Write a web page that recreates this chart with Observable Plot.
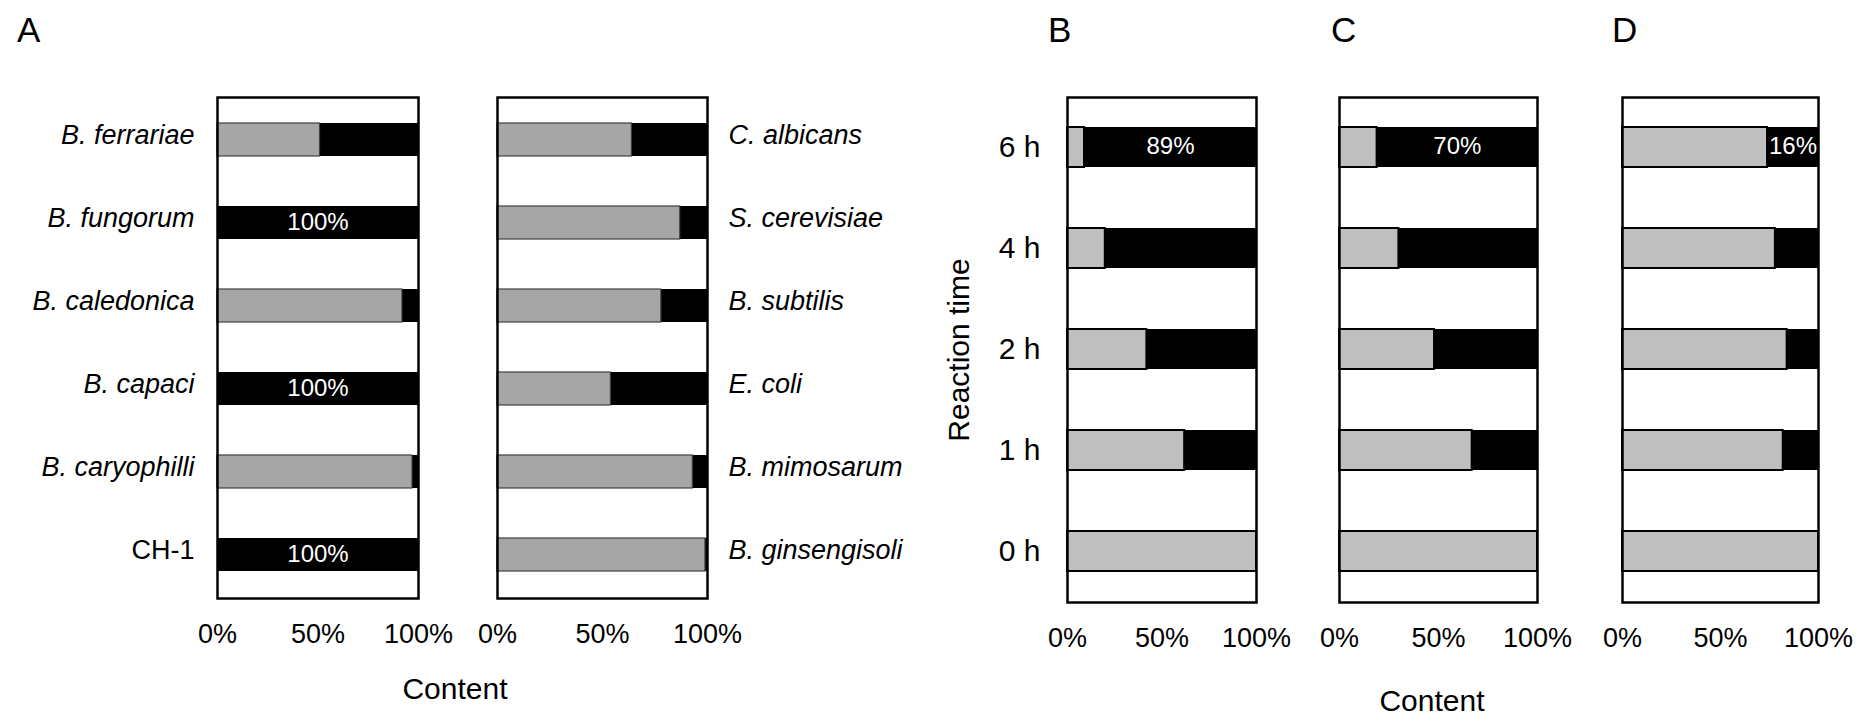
<!DOCTYPE html>
<html><head><meta charset="utf-8">
<script src="https://cdn.jsdelivr.net/npm/d3@7"></script>
<script src="https://cdn.jsdelivr.net/npm/@observablehq/plot@0.6"></script>
<style>
body{margin:0;background:#fff;}
#wrap{position:relative;width:1861px;height:718px;overflow:hidden;background:#fff;}
#wrap svg{position:absolute;left:0;top:0;}
</style></head><body><div id="wrap"></div>
<script>
const W = 1861, H = 718;
const FONT = "Liberation Sans, Arial, Helvetica, sans-serif";

// Panel A (left)
const catsA1 = ["B. ferrariae", "B. fungorum", "B. caledonica", "B. capaci", "B. caryophilli", "CH-1"];
const grayA1 = [51, 0, 92, 0, 97, 0];
const labelsA1 = ["", "100%", "", "100%", "", "100%"];
// Panel A (right)
const catsA2 = ["C. albicans", "S. cerevisiae", "B. subtilis", "E. coli", "B. mimosarum", "B. ginsengisoli"];
const grayA2 = [64, 87, 78, 54, 93, 99];
const labelsA2 = ["", "", "", "", "", ""];
// Panels B, C, D
const times = ["6 h", "4 h", "2 h", "1 h", "0 h"];
const grayB = [9, 20, 42, 62, 100];
const labelsB = ["89%", "", "", "", ""];
const grayC = [19, 30, 48, 67, 100];
const labelsC = ["70%", "", "", "", ""];
const grayD = [74, 78, 84, 82, 100];
const labelsD = ["16%", "", "", "", ""];
const xTicks = [0, 50, 100];

const wrap = document.getElementById("wrap");

function panel(o) {
  const data = o.cats.map((c, i) => ({cat: c, gray: o.gray[i], label: o.labels[i]}));
  const marks = [
    Plot.barX(data.filter(d => d.gray < 100), {y: "cat", x1: "gray", x2: 100, fill: "black"}),
    Plot.barX(data.filter(d => d.gray > 0), {y: "cat", x1: 0, x2: "gray", fill: o.grayFill, stroke: o.grayStroke, strokeWidth: o.grayStrokeWidth}),
    Plot.text(data.filter(d => d.label), {y: "cat", x: d => (d.gray + 100) / 2, text: "label", fill: "white", fontSize: 24, fontFamily: FONT, dy: -1}),
    Plot.axisX({ticks: xTicks, tickFormat: d => d + "%", tickSize: 0, tickPadding: 25, fontSize: 27, fontFamily: FONT, fill: "black", label: null}),
    Plot.frame({stroke: "black", strokeWidth: 2.5})
  ];
  if (o.yAxes) marks.push(...o.yAxes);
  const chart = Plot.plot({
    width: W, height: H,
    marginLeft: o.left, marginRight: W - o.right, marginTop: o.top, marginBottom: H - o.bottom,
    style: {background: "transparent", overflow: "visible", fontFamily: FONT},
    x: {domain: [0, 100], axis: null},
    y: {domain: o.cats, paddingInner: 0.6, paddingOuter: 0.3, axis: null},
    marks
  });
  wrap.appendChild(chart);
}

const italA1 = catsA1.filter(c => c !== "CH-1");
panel({cats: catsA1, gray: grayA1, labels: labelsA1, left: 217, right: 418, top: 97, bottom: 598,
  grayFill: "#a6a6a6", grayStroke: "#404040", grayStrokeWidth: 1.2,
  yAxes: [
    Plot.axisY({ticks: italA1, anchor: "left", tickSize: 0, tickPadding: 23, fontSize: 27, fontStyle: "italic", fontFamily: FONT, fill: "black", dy: -5, label: null}),
    Plot.axisY({ticks: ["CH-1"], anchor: "left", tickSize: 0, tickPadding: 23, fontSize: 27, fontFamily: FONT, fill: "black", dy: -5, label: null})
  ]});
panel({cats: catsA2, gray: grayA2, labels: labelsA2, left: 497, right: 707, top: 97, bottom: 598,
  grayFill: "#a6a6a6", grayStroke: "#404040", grayStrokeWidth: 1.2,
  yAxes: [
    Plot.axisY({ticks: catsA2, anchor: "right", tickSize: 0, tickPadding: 21, fontSize: 27, fontStyle: "italic", fontFamily: FONT, fill: "black", dy: -5, label: null})
  ]});
panel({cats: times, gray: grayB, labels: labelsB, left: 1067, right: 1256, top: 97, bottom: 602,
  grayFill: "#bfbfbf", grayStroke: "black", grayStrokeWidth: 2,
  yAxes: [
    Plot.axisY({ticks: times, anchor: "left", tickSize: 0, tickPadding: 27, fontSize: 30, fontFamily: FONT, fill: "black", label: null})
  ]});
panel({cats: times, gray: grayC, labels: labelsC, left: 1339, right: 1537, top: 97, bottom: 602,
  grayFill: "#bfbfbf", grayStroke: "black", grayStrokeWidth: 2});
panel({cats: times, gray: grayD, labels: labelsD, left: 1622, right: 1818, top: 97, bottom: 602,
  grayFill: "#bfbfbf", grayStroke: "black", grayStrokeWidth: 2});

// annotation overlay
const svg = d3.select(wrap).append("svg").attr("width", W).attr("height", H)
  .style("font-family", FONT).style("overflow", "visible");
const letters = [["A", 17], ["B", 1048], ["C", 1331], ["D", 1612]];
svg.selectAll("text.pl").data(letters).join("text").attr("class", "pl")
  .attr("x", d => d[1]).attr("y", 42).attr("font-size", 35).text(d => d[0]);
svg.append("text").attr("x", 455).attr("y", 699).attr("text-anchor", "middle").attr("font-size", 30).text("Content");
svg.append("text").attr("x", 1432).attr("y", 711).attr("text-anchor", "middle").attr("font-size", 30).text("Content");
svg.append("text").attr("transform", "translate(969,350) rotate(-90)").attr("text-anchor", "middle").attr("font-size", 30).text("Reaction time");
</script></body></html>
